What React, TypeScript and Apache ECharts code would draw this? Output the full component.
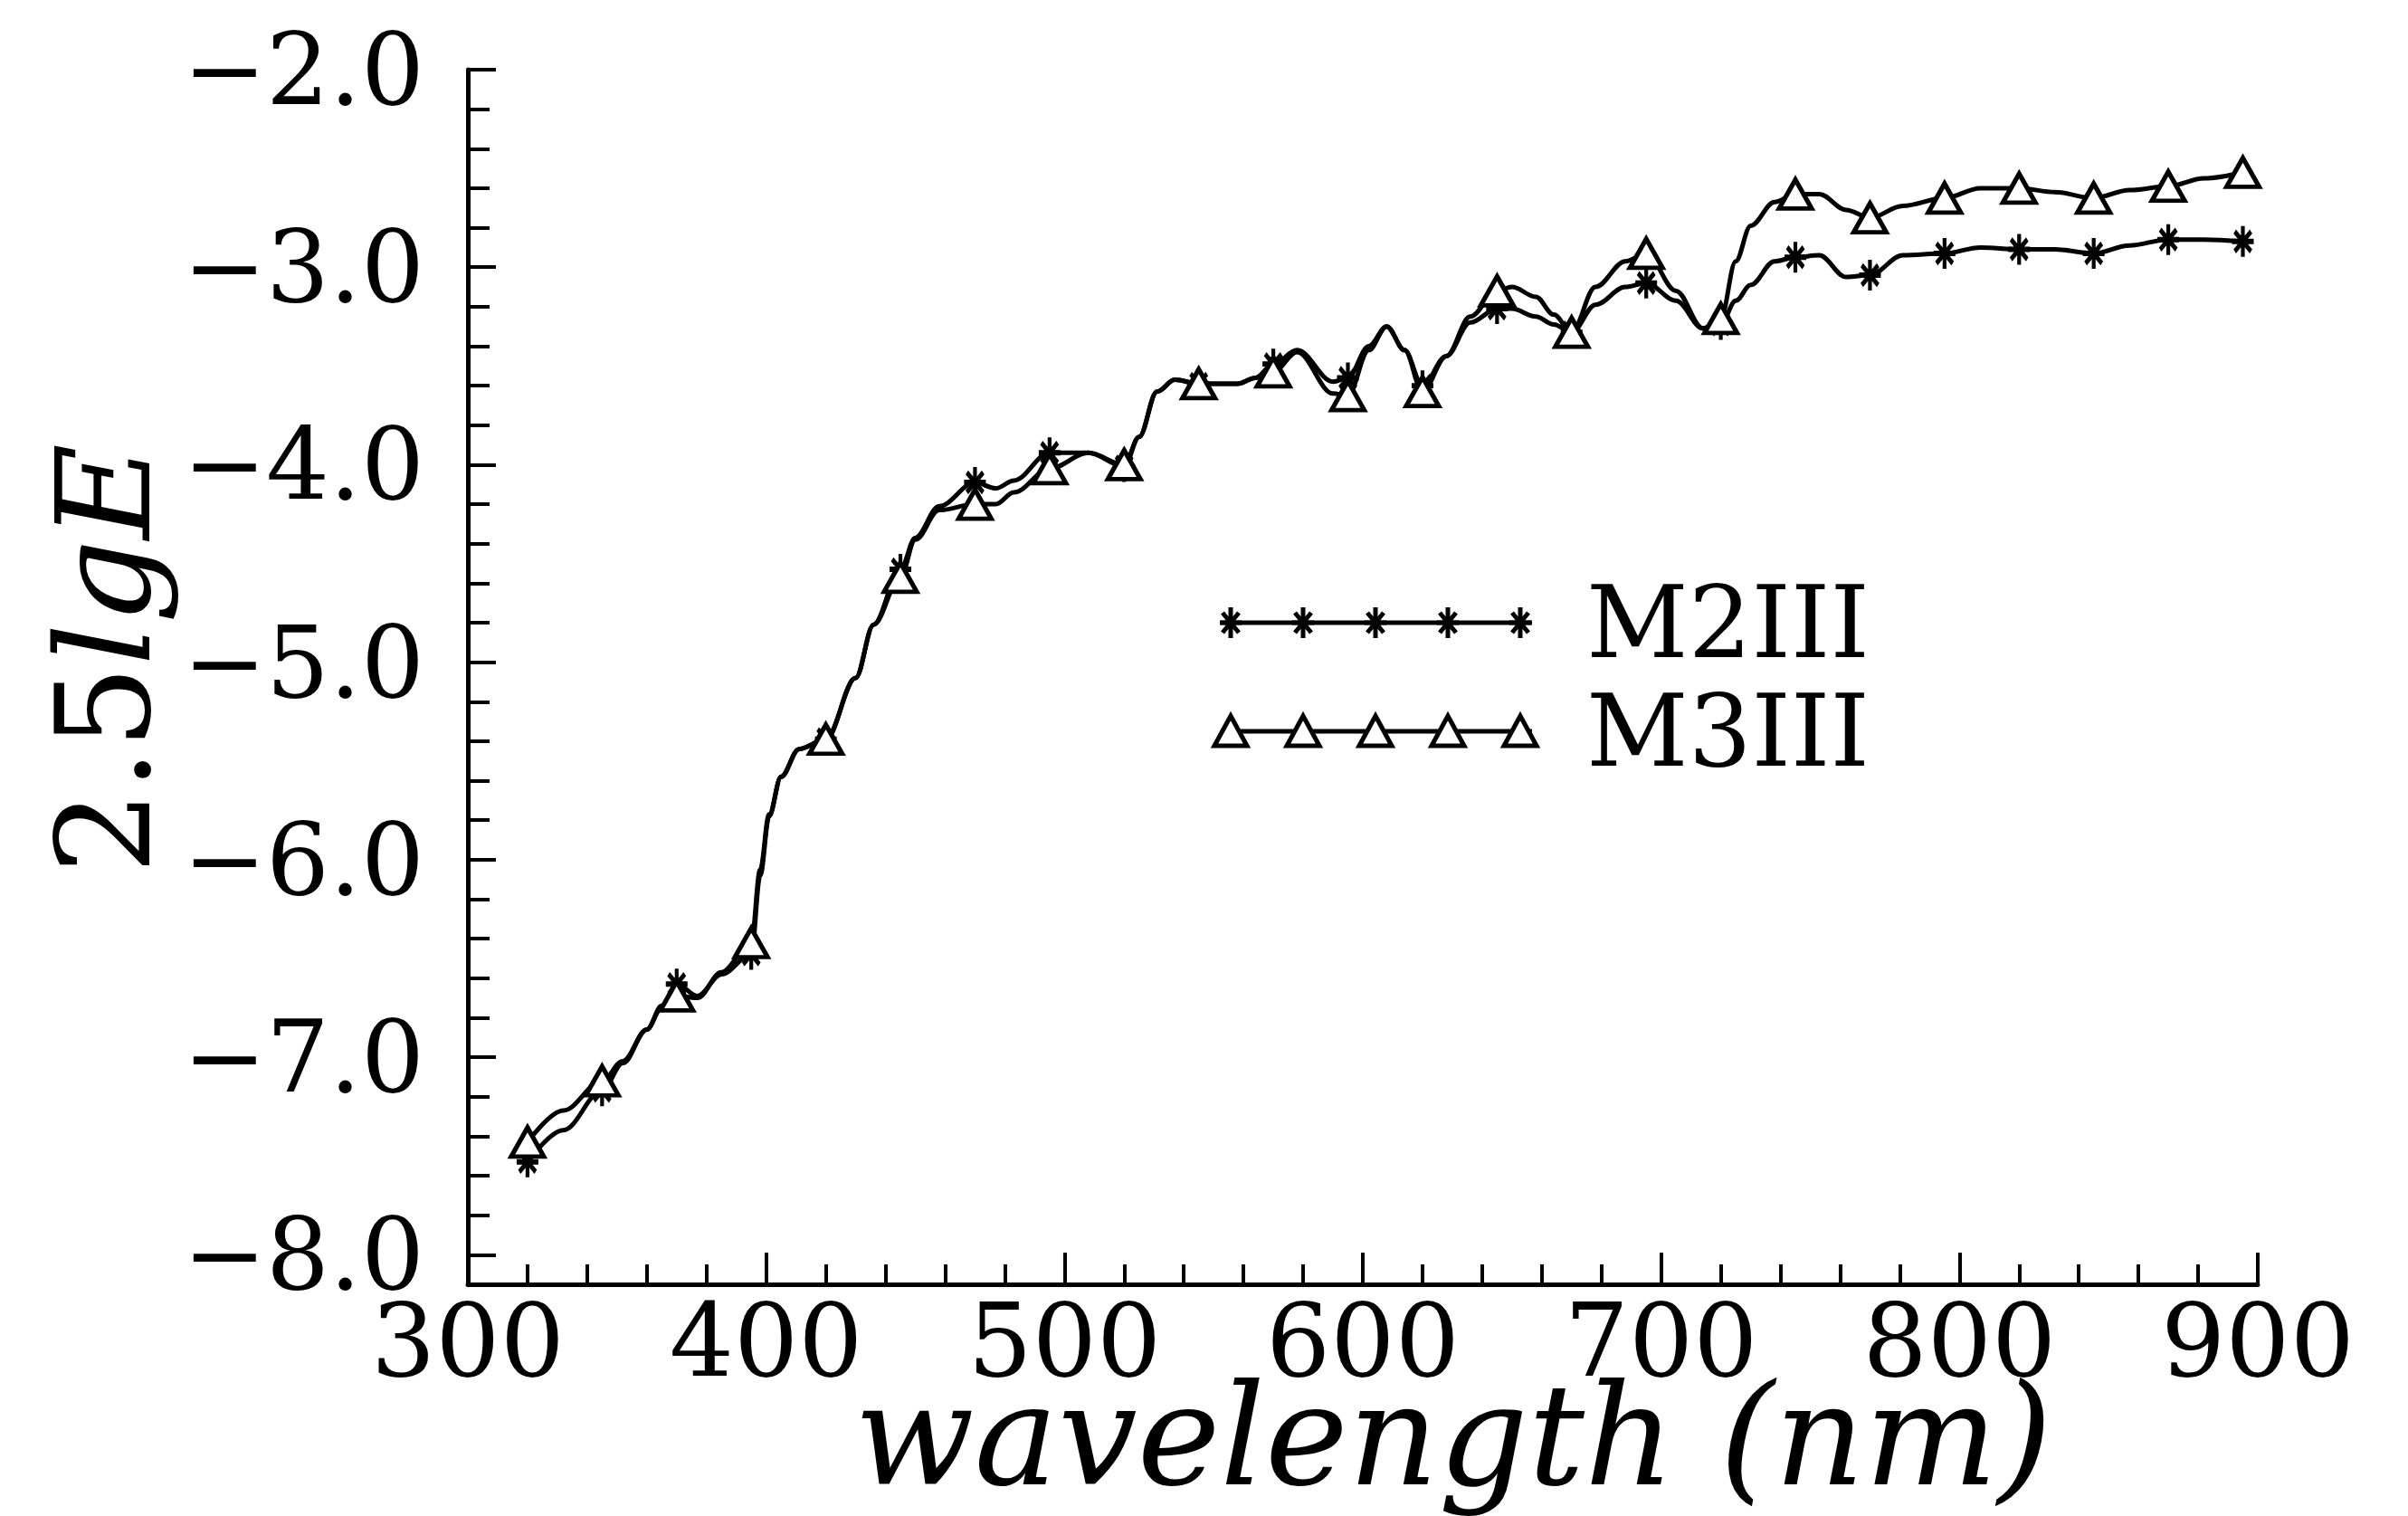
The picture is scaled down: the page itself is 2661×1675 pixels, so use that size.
import React, { useEffect, useRef } from "react";
import * as echarts from "echarts";

// wavelength grid (nm) along which the two curves were read
const wavelengths = [
  320, 332, 345, 352, 360, 365, 370, 377, 385, 395,
  398, 401, 405, 411, 420, 430, 436, 445, 450, 458,
  470, 477, 483, 495, 508, 520, 525, 531, 537, 545,
  558, 564, 570, 578, 590, 595, 602, 608, 614, 620,
  628, 636, 645, 650, 658, 664, 670, 678, 688, 695,
  705, 714, 720, 725, 730, 738, 745, 753, 762, 770,
  781, 795, 807, 820, 832, 845, 857, 870, 882, 895,
];

const m2iii = [
  -7.53, -7.37, -7.17, -7.03, -6.86, -6.74, -6.63, -6.69, -6.58, -6.48,
  -6.08, -5.78, -5.58, -5.44, -5.39, -5.08, -4.81, -4.53, -4.37, -4.21,
  -4.09, -4.12, -4.08, -3.94, -3.94, -4.01, -3.86, -3.63, -3.57, -3.59,
  -3.59, -3.56, -3.49, -3.42, -3.58, -3.56, -3.40, -3.30, -3.42, -3.60,
  -3.45, -3.28, -3.21, -3.21, -3.25, -3.29, -3.33, -3.19, -3.10, -3.08,
  -3.17, -3.31, -3.29, -3.17, -3.09, -2.97, -2.95, -2.94, -3.05, -3.04,
  -2.94, -2.93, -2.90, -2.91, -2.91, -2.93, -2.89, -2.86, -2.86, -2.87,
];

const m3iii = [
  -7.43, -7.27, -7.12, -7.02, -6.86, -6.75, -6.69, -6.70, -6.57, -6.42,
  -6.05, -5.77, -5.58, -5.44, -5.39, -5.08, -4.81, -4.57, -4.38, -4.23,
  -4.20, -4.20, -4.14, -4.02, -3.94, -4.00, -3.86, -3.63, -3.57, -3.59,
  -3.59, -3.56, -3.53, -3.43, -3.64, -3.65, -3.42, -3.30, -3.42, -3.63,
  -3.45, -3.25, -3.12, -3.10, -3.15, -3.24, -3.33, -3.10, -2.97, -2.93,
  -3.12, -3.31, -3.26, -2.97, -2.79, -2.67, -2.63, -2.63, -2.71, -2.75,
  -2.69, -2.65, -2.60, -2.60, -2.62, -2.65, -2.61, -2.59, -2.55, -2.52,
];

// wavelengths that carry a plotting symbol
const markerWavelengths = [
  320, 345, 370, 395, 420, 445, 470, 495, 520, 545, 570, 595,
  620, 645, 670, 695, 720, 745, 770, 795, 820, 845, 870, 895,
];

const seriesNames = ["M2III", "M3III"];
const yTickValues = [-8, -7, -6, -5, -4, -3, -2];
const yMinorTickValues = [
  -8.0, -7.8, -7.6, -7.4, -7.2, -7.0, -6.8, -6.6, -6.4, -6.2, -6.0,
  -5.8, -5.6, -5.4, -5.2, -5.0, -4.8, -4.6, -4.4, -4.2, -4.0,
  -3.8, -3.6, -3.4, -3.2, -3.0, -2.8, -2.6, -2.4, -2.2, -2.0,
];

const FONT = '"DejaVu Serif", "Liberation Serif", serif';
const ASTERISK = "path://M12,0L12,34M0,17L24,17M3,6L21,28M3,28L21,6";

function pairs(vals: number[]) {
  return wavelengths.map((w, i) => [w, vals[i]]);
}
function markers(vals: number[]) {
  return markerWavelengths.map((w) => [w, vals[wavelengths.indexOf(w)]]);
}

function starLines(cx: number, cy: number) {
  const s = { stroke: "#000", lineWidth: 5 };
  return [
    { type: "line", shape: { x1: cx, y1: cy - 17, x2: cx, y2: cy + 17 }, style: s },
    { type: "line", shape: { x1: cx - 12, y1: cy, x2: cx + 12, y2: cy }, style: s },
    { type: "line", shape: { x1: cx - 9, y1: cy - 11, x2: cx + 9, y2: cy + 11 }, style: s },
    { type: "line", shape: { x1: cx - 9, y1: cy + 11, x2: cx + 9, y2: cy - 11 }, style: s },
  ];
}
function triangle(cx: number, cy: number) {
  return {
    type: "polygon",
    shape: { points: [[cx - 18, cy + 16], [cx + 18, cy + 16], [cx, cy - 17]] },
    style: { fill: "#fff", stroke: "#000", lineWidth: 5 },
  };
}

export default function App() {
  const ref = useRef<HTMLDivElement>(null);

  useEffect(() => {
    if (!ref.current) return;
    const chart = echarts.init(ref.current, undefined, { renderer: "svg" });

    const legendXs = [1360, 1440, 1520, 1600, 1680];
    const legendY1 = 688;
    const legendY2 = 808;
    const legendChildren: any[] = [
      { type: "line", shape: { x1: 1349, y1: legendY1, x2: 1693, y2: legendY1 }, style: { stroke: "#000", lineWidth: 5 } },
      ...legendXs.flatMap((x) => starLines(x, legendY1)),
      { type: "text", x: 1753, y: legendY1, style: { text: seriesNames[0], font: `110px ${FONT}`, fill: "#000", verticalAlign: "middle" } },
      { type: "line", shape: { x1: 1349, y1: legendY2, x2: 1693, y2: legendY2 }, style: { stroke: "#000", lineWidth: 5 } },
      ...legendXs.map((x) => triangle(x, legendY2)),
      { type: "text", x: 1753, y: legendY2, style: { text: seriesNames[1], font: `110px ${FONT}`, fill: "#000", verticalAlign: "middle" } },
    ];

    chart.setOption({
      animation: false,
      backgroundColor: "#fff",
      grid: {
        left: 517,
        right: 166,
        top: 77,
        bottom: 256,
        containLabel: false,
        outerBoundsMode: "none",
      },
      xAxis: {
        type: "value",
        min: 300,
        max: 900,
        interval: 100,
        axisLine: { show: true, onZero: false, lineStyle: { color: "#000", width: 5 } },
        axisTick: { show: true, inside: true, length: 35, lineStyle: { color: "#000", width: 4 } },
        minorTick: { show: true, splitNumber: 5, length: 22, lineStyle: { color: "#000", width: 4 } },
        axisLabel: { color: "#000", fontFamily: FONT, fontSize: 112, lineHeight: 76, margin: 24 },
        splitLine: { show: false },
        minorSplitLine: { show: false },
        name: "wavelength (nm)",
        nameLocation: "middle",
        nameGap: 112,
        nameMoveOverlap: false,
        nameTextStyle: {
          color: "#000",
          fontFamily: FONT,
          fontStyle: "italic",
          fontSize: 155,
          lineHeight: 110,
          padding: [0, 0, 0, 200],
        },
      },
      yAxis: [
        {
          type: "value",
          min: -8.15,
          max: -2,
          position: "left",
          axisLine: { show: true, onZero: false, lineStyle: { color: "#000", width: 5 } },
          axisTick: { show: true, inside: true, length: 31, customValues: yTickValues, lineStyle: { color: "#000", width: 4 } },
          axisLabel: {
            show: true,
            customValues: yTickValues,
            color: "#000",
            fontFamily: FONT,
            fontSize: 110,
            lineHeight: 80,
            margin: 48,
            formatter: (v: number) => (v < 0 ? "\u2212" : "") + Math.abs(v).toFixed(1),
          },
          splitLine: { show: false },
          name: "{n|2.5}{i|lgE}",
          nameLocation: "middle",
          nameRotate: 90,
          nameGap: 330,
          nameMoveOverlap: false,
          nameTextStyle: {
            color: "#000",
            padding: [0, 0, 0, 40],
            rich: {
              n: { fontFamily: FONT, fontSize: 145, color: "#000" },
              i: { fontFamily: FONT, fontSize: 145, fontStyle: "italic", color: "#000" },
            },
          },
        },
        {
          type: "value",
          min: -8.15,
          max: -2,
          position: "left",
          axisLine: { show: false },
          axisTick: { show: true, inside: true, length: 24, customValues: yMinorTickValues, lineStyle: { color: "#000", width: 4 } },
          axisLabel: { show: false },
          splitLine: { show: false },
        },
      ],
      series: [
        {
          name: seriesNames[0],
          type: "line",
          data: pairs(m2iii),
          smooth: 0.35,
          smoothMonotone: "x",
          symbol: "none",
          lineStyle: { color: "#000", width: 5 },
          z: 2,
        },
        {
          name: seriesNames[1],
          type: "line",
          data: pairs(m3iii),
          smooth: 0.35,
          smoothMonotone: "x",
          symbol: "none",
          lineStyle: { color: "#000", width: 5 },
          z: 2,
        },
        {
          name: seriesNames[0] + " points",
          type: "scatter",
          data: markers(m2iii),
          symbol: ASTERISK,
          symbolSize: [24, 34],
          itemStyle: { color: "#000", borderColor: "#000", borderWidth: 5, opacity: 1 },
          z: 3,
        },
        {
          name: seriesNames[1] + " points",
          type: "scatter",
          data: markers(m3iii),
          symbol: "triangle",
          symbolSize: [36, 32],
          itemStyle: { color: "#fff", borderColor: "#000", borderWidth: 5, opacity: 1 },
          z: 4,
        },
      ],
      graphic: [{ type: "group", children: legendChildren }],
    });

    return () => chart.dispose();
  }, []);

  return (
    <div
      ref={ref}
      style={{ position: "fixed", left: 0, top: 0, width: 2661, height: 1675, background: "#fff" }}
    />
  );
}
